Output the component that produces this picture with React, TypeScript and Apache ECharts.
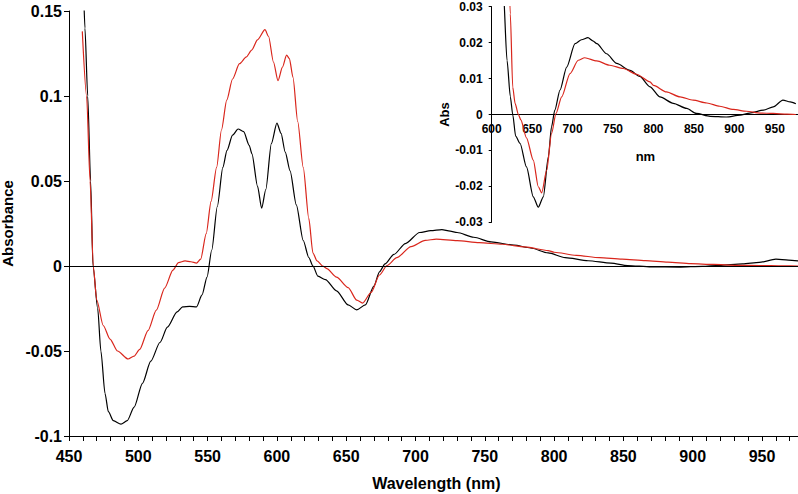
import React, { useEffect, useRef } from "react";
import * as echarts from "echarts";

// Wavelength (nm) and absorbance for the black trace
const blackNm = [460.6, 461.5, 463.5, 465.6, 467.3, 470.7, 473, 476, 478.4, 482, 487.5, 492, 497, 503, 509, 515.6, 521, 528, 532, 537, 542, 546, 549.6, 553, 557, 561, 564, 568, 572, 576, 580, 582, 586, 589, 592, 596, 600, 603, 606, 609.5, 614, 619, 623, 626, 629.6, 635, 643, 651.4, 657.6, 663.8, 670, 674, 678, 684.4, 692.7, 703, 711, 719, 725, 730, 742, 754.5, 771, 783, 795.7, 808, 824.5, 841, 853, 870, 890, 907, 919, 936, 948, 960, 969, 976];
const blackAbs = [0.16, 0.14, 0.1, 0.05, 0.0, -0.025, -0.05, -0.075, -0.0857, -0.091, -0.093, -0.091, -0.083, -0.069, -0.056, -0.045, -0.036, -0.027, -0.024, -0.0238, -0.024, -0.017, -0.0065, 0.0094, 0.035, 0.058, 0.068, 0.077, 0.0806, 0.079, 0.071, 0.066, 0.047, 0.034, 0.045, 0.072, 0.084, 0.078, 0.067, 0.056, 0.036, 0.015, 0.005, 0.0, -0.006, -0.008, -0.0146, -0.0229, -0.0258, -0.0229, -0.0118, -0.0034, 0.0012, 0.0068, 0.0132, 0.0197, 0.0208, 0.0214, 0.0205, 0.0197, 0.0169, 0.0142, 0.0123, 0.0106, 0.0077, 0.0049, 0.0031, 0.0017, 0.0003, -0.0005, -0.0007, -0.0002, 0.0004, 0.0012, 0.0021, 0.004, 0.0035, 0.003];

// Wavelength (nm) and absorbance for the red trace
const redNm = [459.6, 462.7, 465.2, 467.5, 470, 474.7, 479.6, 485, 492.6, 497, 501, 507, 513, 519, 525, 529, 533.7, 538, 542, 545, 549, 552.5, 556.5, 560, 563.8, 568, 573, 578, 581.8, 586, 591.4, 594, 597.5, 600.8, 604, 607, 609, 611.6, 615, 619, 623, 626, 629, 633, 636, 643, 651.4, 657.6, 661.8, 668, 674, 679.5, 686.5, 696.8, 707, 715, 730, 746, 762.7, 779, 795.7, 800, 816, 832.8, 849, 866, 882, 898.6, 915, 931.7, 948, 965, 976];
const redAbs = [0.138, 0.1, 0.05, 0.0, -0.02, -0.035, -0.043, -0.05, -0.0547, -0.053, -0.049, -0.038, -0.026, -0.013, -0.0024, 0.002, 0.003, 0.0025, 0.0017, 0.004, 0.019, 0.038, 0.058, 0.08, 0.0976, 0.11, 0.119, 0.123, 0.127, 0.133, 0.139, 0.135, 0.12, 0.109, 0.117, 0.124, 0.122, 0.111, 0.085, 0.058, 0.028, 0.0076, 0.003, 0.0, -0.0015, -0.0065, -0.0127, -0.0201, -0.0218, -0.0155, -0.0053, 0.0003, 0.0049, 0.0114, 0.0151, 0.0158, 0.0149, 0.0137, 0.0128, 0.0112, 0.0091, 0.0081, 0.0063, 0.0049, 0.004, 0.0032, 0.0023, 0.0014, 0.0009, 0.0004, 0.0003, 0.0001, 0.0];

const mainXTicks = { min: 450, max: 980, step: 10, labelStep: 50 };
const mainYTicks = { min: -0.1, max: 0.15, step: 0.05 };
const insetXTicks = { min: 600, max: 980, step: 50 };
const insetYTicks = { min: -0.03, max: 0.03, step: 0.01 };

const FONT = "'Liberation Sans', Arial, sans-serif";
const RED = "#d9261c";

function pairs(xs: number[], ys: number[], minX = -Infinity) {
  const out: number[][] = [];
  for (let i = 0; i < xs.length; i++) if (xs[i] >= minX) out.push([xs[i], ys[i]]);
  return out;
}

export default function App() {
  const ref = useRef<HTMLDivElement>(null);
  useEffect(() => {
    if (!ref.current) return;
    const chart = echarts.init(ref.current, undefined, { renderer: "svg" });
    const axisLine = { show: true, onZero: false, lineStyle: { color: "#000", width: 1 } };
    const lineCommon = { type: "line", showSymbol: false, symbol: "none", smooth: 0.25, smoothMonotone: "x" };
    chart.setOption({
      animation: false,
      backgroundColor: "#fff",
      grid: [
        { left: 69, top: 11, width: 734.6, height: 425, containLabel: false, outerBoundsMode: "none" },
        { left: 491.7, top: 6.7, width: 307.4, height: 215.6, containLabel: false, outerBoundsMode: "none" },
      ],
      xAxis: [
        {
          type: "value",
          gridIndex: 0,
          min: mainXTicks.min,
          max: mainXTicks.max,
          interval: mainXTicks.step,
          axisLine: axisLine,
          axisTick: { show: true, length: 5, inside: false, lineStyle: { color: "#000" } },
          axisLabel: {
            fontFamily: FONT,
            fontWeight: "bold",
            fontSize: 16,
            color: "#000",
            margin: 12,
            formatter: (v: number) => (Math.round(v) % mainXTicks.labelStep === 0 && v < mainXTicks.max ? String(Math.round(v)) : ""),
          },
          splitLine: { show: false },
          name: "Wavelength (nm)",
          nameLocation: "middle",
          nameGap: 39,
          nameTextStyle: { fontFamily: FONT, fontWeight: "bold", fontSize: 16, color: "#000" },
        },
        {
          type: "value",
          gridIndex: 1,
          position: "bottom",
          offset: -108,
          min: insetXTicks.min,
          max: insetXTicks.max,
          interval: insetXTicks.step,
          axisLine: axisLine,
          axisTick: { show: false },
          axisLabel: {
            fontFamily: FONT,
            fontWeight: "bold",
            fontSize: 12,
            color: "#000",
            margin: 9,
            formatter: (v: number) => (Math.round(v) % 50 === 0 && v < insetXTicks.max ? String(Math.round(v)) : ""),
          },
          splitLine: { show: false },
          name: "nm",
          nameLocation: "middle",
          nameGap: 36,
          nameTextStyle: { fontFamily: FONT, fontWeight: "bold", fontSize: 13, color: "#000" },
        },
      ],
      yAxis: [
        {
          type: "value",
          gridIndex: 0,
          min: mainYTicks.min,
          max: mainYTicks.max,
          interval: mainYTicks.step,
          axisLine: axisLine,
          axisTick: { show: true, length: 5, lineStyle: { color: "#000" } },
          axisLabel: { fontFamily: FONT, fontWeight: "bold", fontSize: 16, color: "#000", margin: 7 },
          splitLine: { show: false },
          name: "Absorbance",
          nameLocation: "middle",
          nameGap: 46,
          nameTextStyle: { fontFamily: FONT, fontWeight: "bold", fontSize: 15, color: "#000" },
        },
        {
          type: "value",
          gridIndex: 1,
          min: insetYTicks.min,
          max: insetYTicks.max,
          interval: insetYTicks.step,
          axisLine: axisLine,
          axisTick: { show: true, length: 3, lineStyle: { color: "#000" } },
          axisLabel: { fontFamily: FONT, fontWeight: "bold", fontSize: 12, color: "#000", margin: 9 },
          splitLine: { show: false },
          name: "Abs",
          nameLocation: "middle",
          nameGap: 25,
          nameTextStyle: { fontFamily: FONT, fontWeight: "bold", fontSize: 13, color: "#000" },
        },
      ],
      series: [
        {
          ...lineCommon,
          xAxisIndex: 0,
          yAxisIndex: 0,
          data: pairs(redNm, redAbs),
          lineStyle: { color: RED, width: 1.2 },
          z: 3,
        },
        {
          ...lineCommon,
          xAxisIndex: 0,
          yAxisIndex: 0,
          data: pairs(blackNm, blackAbs),
          lineStyle: { color: "#000", width: 1.2 },
          z: 2,
          markLine: {
            silent: true,
            symbol: ["none", "none"],
            label: { show: false },
            lineStyle: { color: "#000", width: 1, type: "solid" },
            data: [{ yAxis: 0 }],
          },
        },
        {
          ...lineCommon,
          xAxisIndex: 1,
          yAxisIndex: 1,
          data: pairs(redNm, redAbs, 600),
          lineStyle: { color: RED, width: 1.2 },
          z: 3,
        },
        {
          ...lineCommon,
          xAxisIndex: 1,
          yAxisIndex: 1,
          data: pairs(blackNm, blackAbs, 600),
          lineStyle: { color: "#000", width: 1.2 },
          z: 2,
        },
      ],
    });
    return () => chart.dispose();
  }, []);
  return (
    <div style={{ position: "fixed", left: 0, top: 0, width: 798, height: 494, overflow: "hidden", background: "#fff" }}>
      <div ref={ref} style={{ width: 810, height: 494 }} />
    </div>
  );
}
